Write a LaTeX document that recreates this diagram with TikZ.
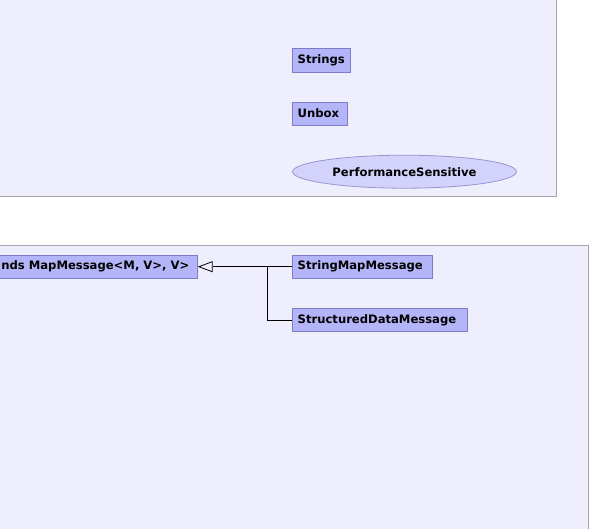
\documentclass[tikz,border=0pt]{standalone}
\usepackage{fontspec}
\setmainfont{DejaVu Sans}
\usetikzlibrary{arrows.meta, positioning, shapes.geometric}
\definecolor{pkgfill}{HTML}{EEEEFD}
\definecolor{pkgline}{HTML}{A4A4B4}
\definecolor{classfill}{HTML}{B4B4F8}
\definecolor{classline}{HTML}{7C7CC8}

\tikzset{
  pkg/.style={draw=pkgline, fill=pkgfill, line width=0.8pt},
  cls/.style={draw=classline, fill=classfill, line width=0.8pt, inner ysep=0pt, inner xsep=5pt,
    minimum height=23.5pt, align=left, font=\bfseries\fontsize{11.6}{13}\selectfont},
  uc/.style={ellipse, draw=classline!80, fill=classfill!60, line width=0.8pt, inner sep=0pt,
    minimum width=224pt, minimum height=33pt, font=\bfseries\fontsize{11.6}{13}\selectfont},
  gen/.style={-{Triangle[open, length=15pt, width=11pt]}, line width=0.8pt}
}

\begin{document}
\begin{tikzpicture}[x=1pt, y=-1pt]
  \useasboundingbox (0,0) rectangle (591,528);
  \clip (0,0) rectangle (591,528);

  % Paket nahoře
  \draw[pkg] (-5,-5) rectangle (556.5,196);
  \node[cls, anchor=north west, text width=47.4pt] (strings) at (292.3,48.3) {Strings};
  \node[cls, anchor=north west, text width=44.4pt] (unbox) at (292.3,101.5) {Unbox};
  \node[uc] (perf) at (404.5,171.7) {PerformanceSensitive};

  % Paket dole
  \draw[pkg] (-5,245.5) rectangle (588.5,540);
  \node[cls, anchor=east] (mapmsg) at (197.7,266.7)
    {\makebox[215pt][r]{nds MapMessage<M, V>, V>\kern3pt}};
  \node[cls, anchor=west, text width=130pt] (strmap) at (292.3,266.7) {StringMapMessage};
  \node[cls, anchor=west, text width=164.4pt] (structdata) at (292.3,320) {StructuredDataMessage};

  % Dědičnost
  \coordinate (joint) at (267.7,266.7);
  \draw[gen] (strmap.west) -- (mapmsg.east);
  \draw[line width=0.8pt] (structdata.west) -| (joint);
\end{tikzpicture}
\end{document}
